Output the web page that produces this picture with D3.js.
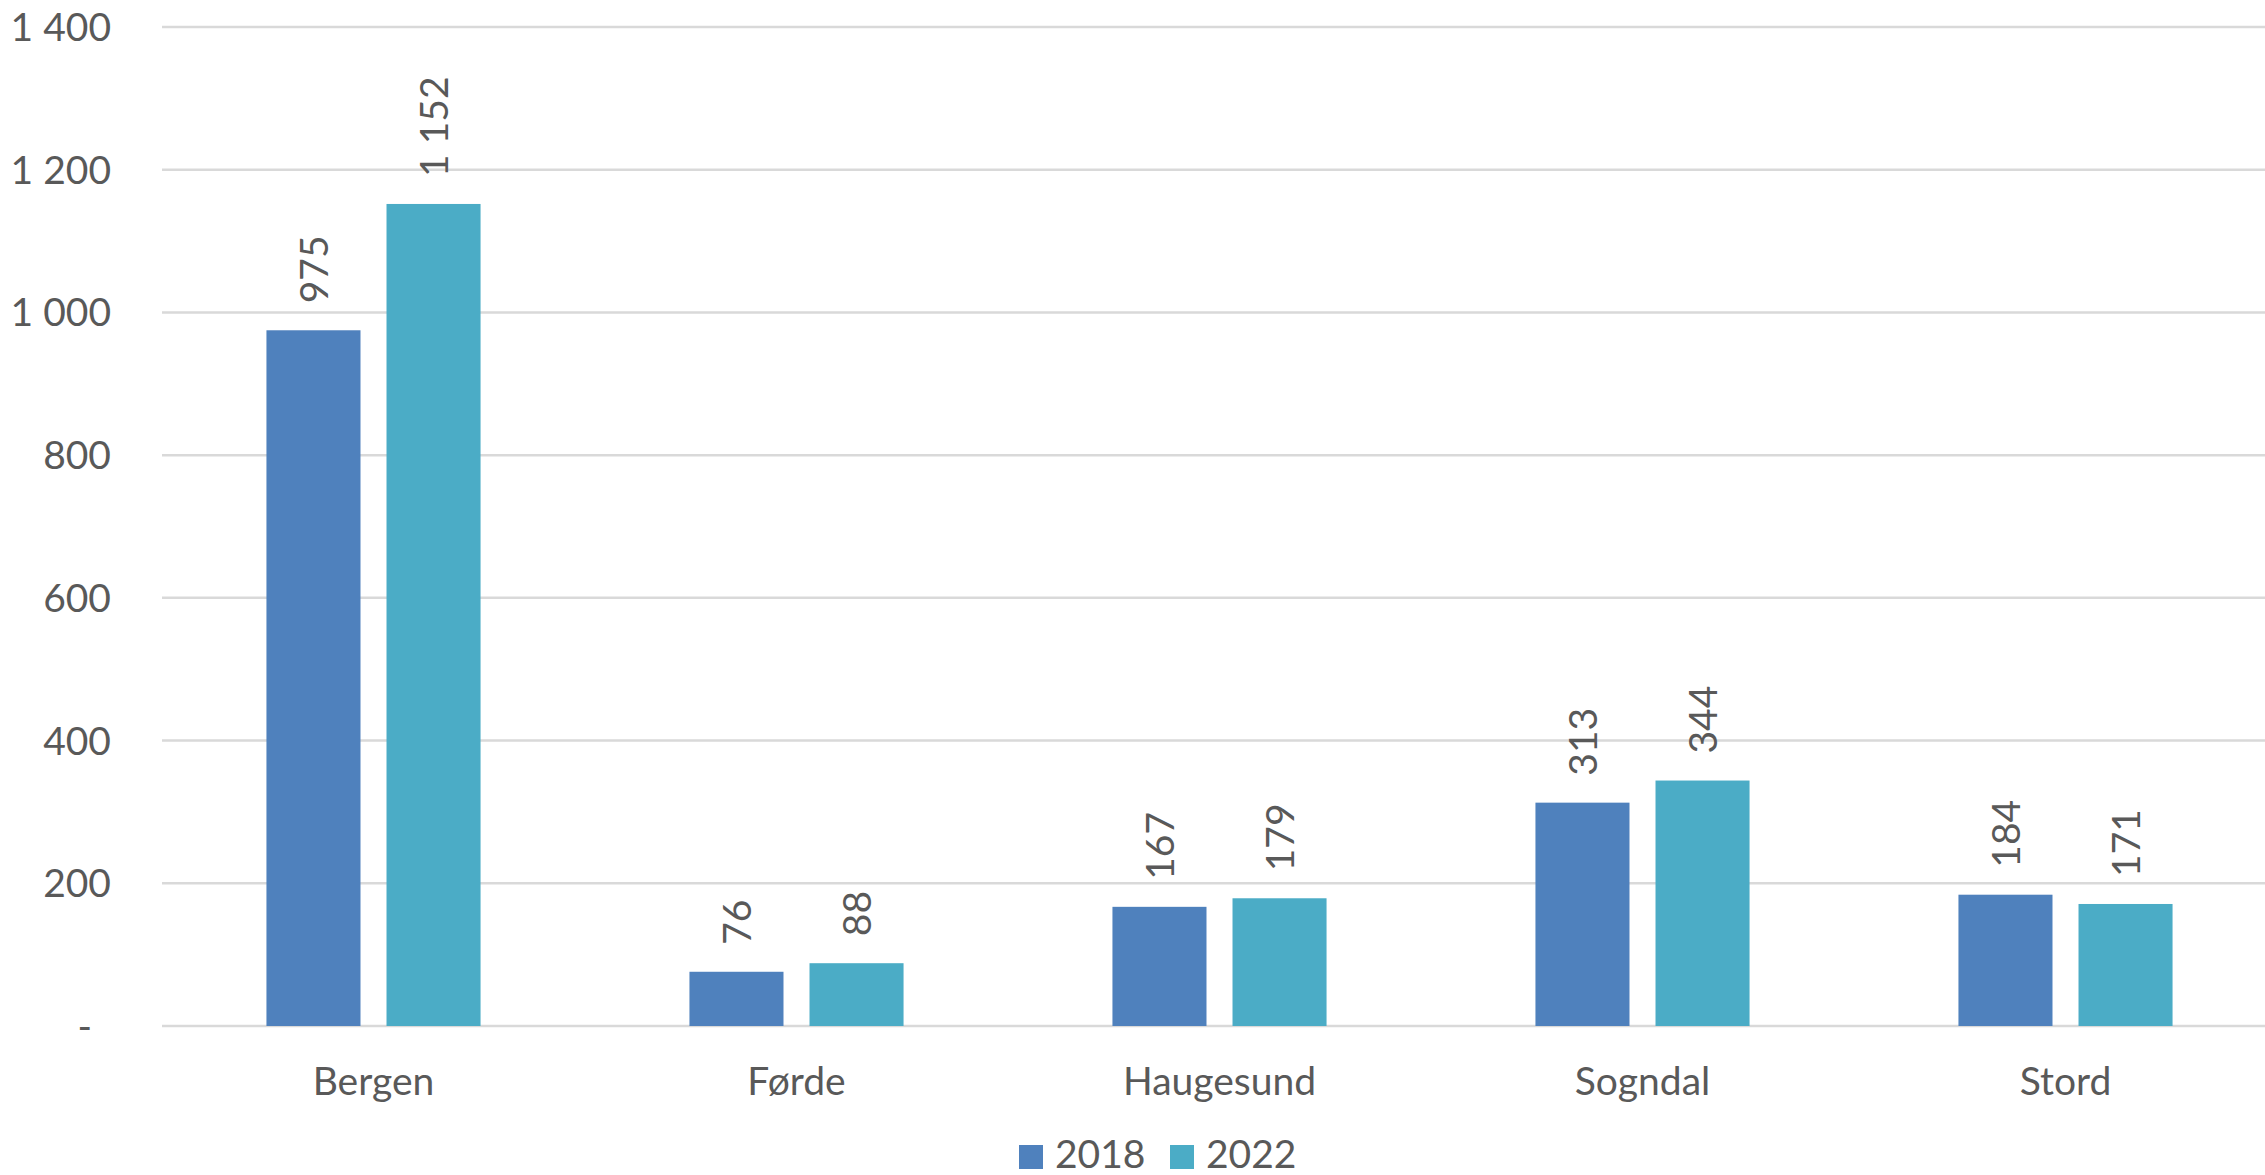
<!DOCTYPE html>
<html>
<head>
<meta charset="utf-8">
<script src="https://cdn.jsdelivr.net/npm/d3@7"></script>
<style>
  html, body { margin: 0; padding: 0; background: #fff; }
  text { font-family: Lato, "Liberation Sans", sans-serif; fill: #595959; }
</style>
</head>
<body>
<div id="chart"></div>
<script>
const categories = ["Bergen", "Førde", "Haugesund", "Sogndal", "Stord"];
const seriesNames = ["2018", "2022"];
const values2018 = [975, 76, 167, 313, 184];
const values2022 = [1152, 88, 179, 344, 171];
const yTicks = [0, 200, 400, 600, 800, 1000, 1200, 1400];
const colors = ["#4F81BD", "#4BACC6"];

const width = 2265;
const height = 1175;
// plot area runs a little past the right edge of the picture
const margin = {top: 27, right: -12, bottom: 149, left: 162};
const fontSize = 39;

const rows = categories.map((c, i) => ({
    cat: c,
    vals: [values2018[i], values2022[i]]
}));

const svg = d3.select("#chart").append("svg")
    .attr("width", width)
    .attr("height", height);

const x0 = d3.scaleBand()
    .domain(categories)
    .range([margin.left, width - margin.right]);

const x1 = d3.scaleBand()
    .domain(seriesNames)
    .range([0, x0.bandwidth()])
    .paddingInner(0.2167)
    .paddingOuter(0.87);

const y = d3.scaleLinear()
    .domain([0, 1400])
    .range([height - margin.bottom, margin.top]);

const fmt = v => v === 0 ? "-" : d3.format(",")(v).replace(/,/g, " ");

// gridlines
svg.append("g")
    .selectAll("line")
    .data(yTicks)
    .enter()
    .append("line")
    .attr("x1", margin.left)
    .attr("x2", width)
    .attr("y1", d => y(d))
    .attr("y2", d => y(d))
    .attr("stroke", "#D9D9D9")
    .attr("stroke-width", 2.5);

// y labels
svg.append("g")
    .selectAll("text")
    .data(yTicks)
    .enter()
    .append("text")
    .attr("x", d => d === 0 ? 92 : 111)
    .attr("y", d => y(d))
    .attr("dy", "0.36em")
    .attr("text-anchor", "end")
    .style("font-size", fontSize + "px")
    .text(fmt);

// bars
const groups = svg.append("g")
    .selectAll("g")
    .data(rows)
    .enter()
    .append("g")
    .attr("transform", d => `translate(${x0(d.cat)},0)`);

const cells = groups.selectAll("g")
    .data(d => d.vals.map((v, i) => ({key: seriesNames[i], v: v, i: i})))
    .enter()
    .append("g");

cells.append("rect")
    .attr("x", d => x1(d.key))
    .attr("width", x1.bandwidth())
    .attr("y", d => y(d.v))
    .attr("height", d => y(0) - y(d.v))
    .attr("fill", d => colors[d.i]);

// value labels, rotated
cells.append("text")
    .attr("transform", d => `translate(${x1(d.key) + x1.bandwidth() / 2},${y(d.v) - 27}) rotate(-90)`)
    .attr("dy", "0.36em")
    .attr("text-anchor", "start")
    .style("font-size", fontSize + "px")
    .text(d => fmt(d.v));

// category labels
svg.append("g")
    .selectAll("text")
    .data(categories)
    .enter()
    .append("text")
    .attr("x", d => x0(d) + x0.bandwidth() / 2)
    .attr("y", 1095)
    .attr("text-anchor", "middle")
    .style("font-size", fontSize + "px")
    .text(d => d);

// legend
const legendX = [1019, 1170];
const legend = svg.append("g")
    .selectAll("g")
    .data(seriesNames)
    .enter()
    .append("g")
    .attr("transform", (d, i) => `translate(${legendX[i]},1145)`);

legend.append("rect")
    .attr("width", 24)
    .attr("height", 24)
    .attr("fill", (d, i) => colors[i]);

legend.append("text")
    .attr("x", 36)
    .attr("y", 23)
    .style("font-size", fontSize + "px")
    .text(d => d);
</script>
</body>
</html>
